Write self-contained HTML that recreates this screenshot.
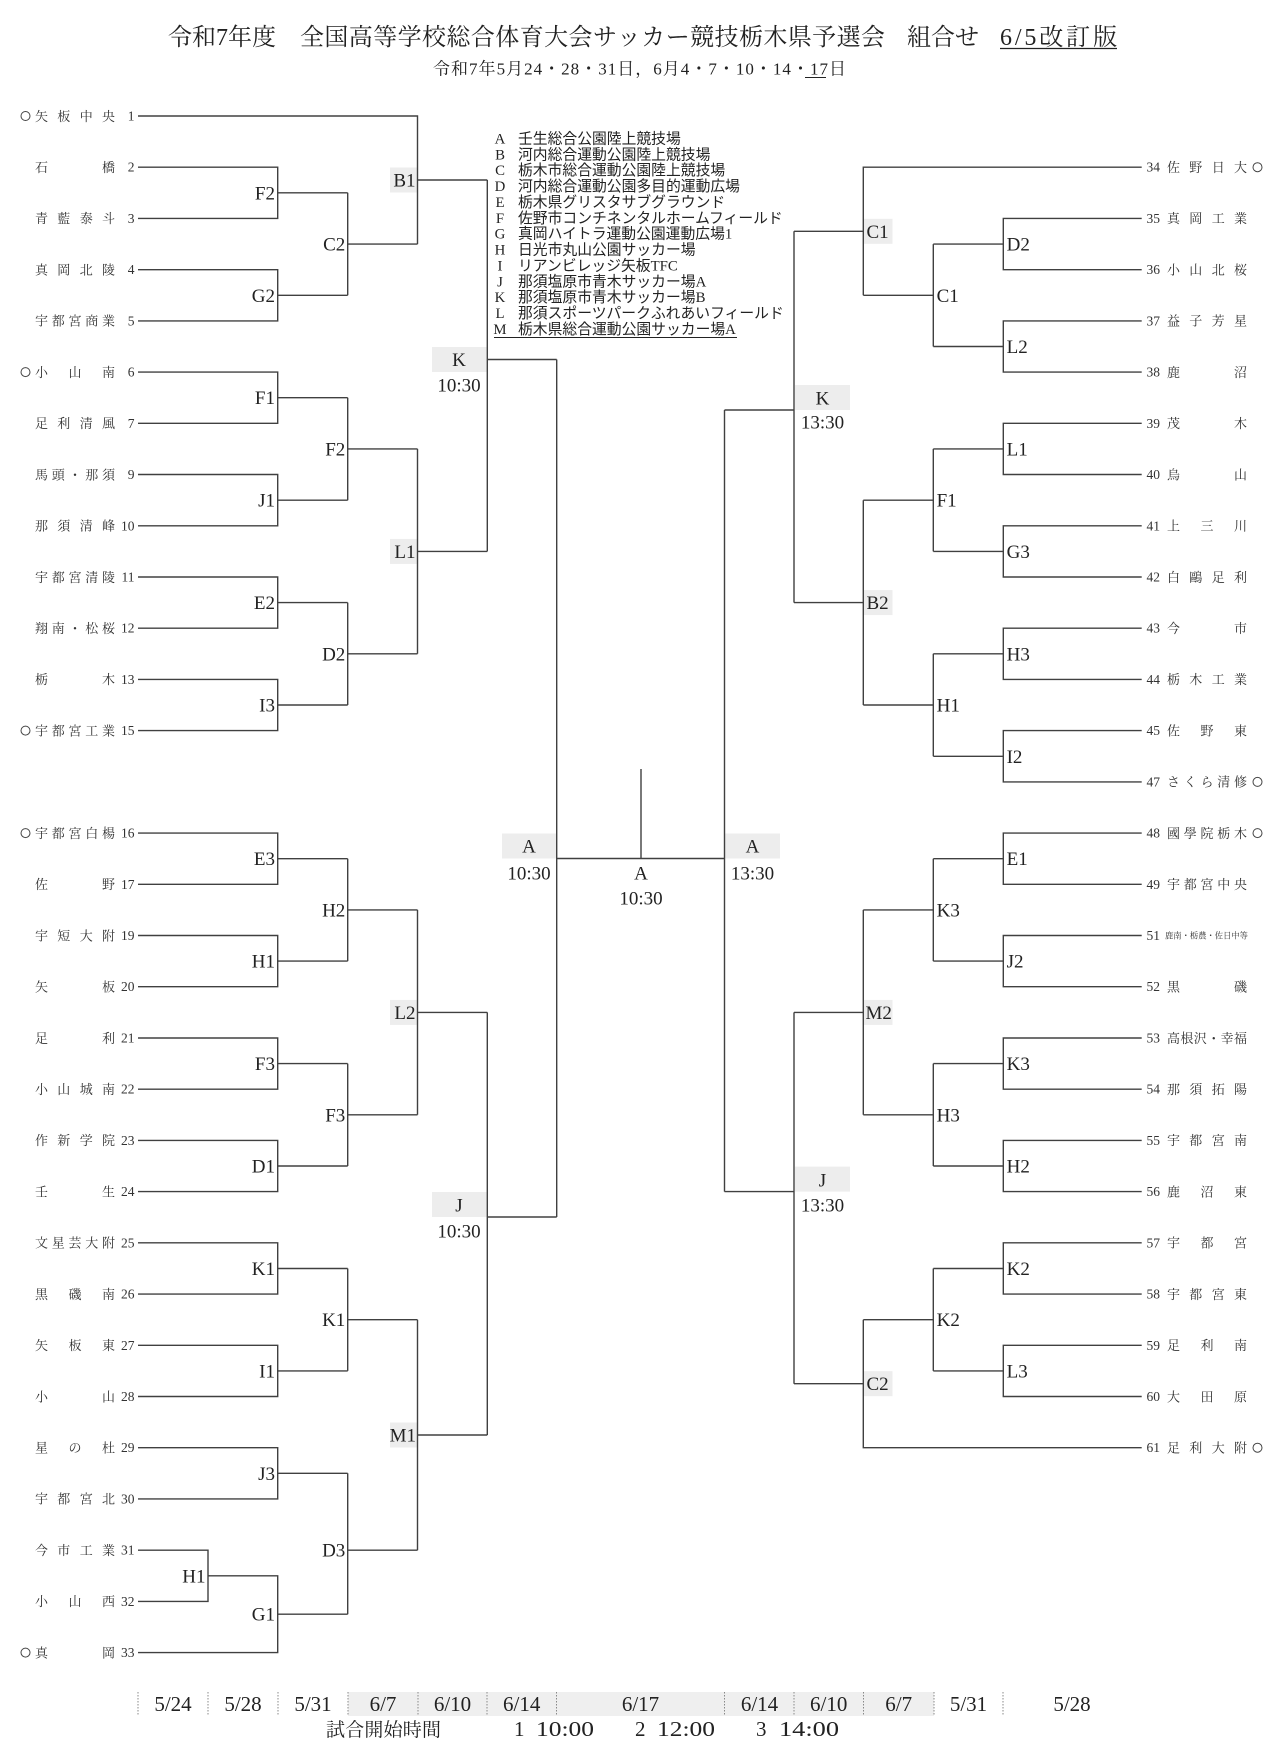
<!DOCTYPE html>
<html><head><meta charset="utf-8">
<style>
html,body{margin:0;padding:0;background:#fff;}
svg{display:block;}
.s{font-family:"Liberation Serif","Noto Serif CJK JP","Noto Serif CJK SC",serif;}
.g{font-family:"Liberation Serif","Noto Sans CJK JP",sans-serif;}
</style></head><body>
<svg width="1280" height="1751" viewBox="0 0 1280 1751" xmlns="http://www.w3.org/2000/svg">
<rect width="1280" height="1751" fill="#fff"/>

<!-- gray boxes -->
<g fill="#ededed">
<rect x="390" y="167.5" width="27.5" height="25"/>
<rect x="390" y="538.9" width="27.5" height="25"/>
<rect x="390" y="999.9" width="27.5" height="25"/>
<rect x="390" y="1422.5" width="27.5" height="25"/>
<rect x="432" y="347" width="54.5" height="25"/>
<rect x="432" y="1192" width="54.5" height="25"/>
<rect x="502" y="833.5" width="54.5" height="25"/>
<rect x="725" y="833.5" width="55" height="25"/>
<rect x="795" y="385" width="55" height="25"/>
<rect x="795" y="1166.6" width="55" height="25"/>
<rect x="863.5" y="218.8" width="29" height="25"/>
<rect x="863.5" y="590.1" width="29" height="25"/>
<rect x="863.5" y="999.9" width="29" height="25"/>
<rect x="863.5" y="1371.2" width="29" height="25"/>
<rect x="348" y="1692" width="586" height="24" fill="#efefef"/>
</g>

<!-- bracket lines -->
<path fill="none" stroke="#404040" stroke-width="1.4" d="
M138 167.2H277.7V218.4H138M277.7 192.8H347.7
M138 269.7H277.7V320.9H138M277.7 295.3H347.7
M138 372.1H277.7V423.3H138M277.7 397.7H347.7
M138 474.5H277.7V525.8H138M277.7 500.2H347.7
M138 577H277.7V628.2H138M277.7 602.6H347.7
M138 679.4H277.7V730.6H138M277.7 705H347.7
M138 833.1H277.7V884.3H138M277.7 858.7H347.7
M138 935.5H277.7V986.7H138M277.7 961.1H347.7
M138 1038H277.7V1089.2H138M277.7 1063.6H347.7
M138 1140.4H277.7V1191.6H138M277.7 1166H347.7
M138 1242.8H277.7V1294.1H138M277.7 1268.5H347.7
M138 1345.3H277.7V1396.5H138M277.7 1370.9H347.7
M138 1447.7H277.7V1498.9H138M277.7 1473.3H347.7
M138 1550.2H208V1601.4H138
M208 1575.8H277.7V1652.6H138M277.7 1614.2H347.7
M347.7 192.8V295.3M347.7 244.1H417.5
M347.7 397.7V500.2M347.7 448.9H417.5
M347.7 602.6V705M347.7 653.8H417.5
M347.7 858.7V961.1M347.7 909.9H417.5
M347.7 1063.6V1166M347.7 1114.8H417.5
M347.7 1268.5V1370.9M347.7 1319.7H417.5
M347.7 1473.3V1614.2M347.7 1550.2H417.5
M138 116H417.5V244.1M417.5 180H487.3
M417.5 448.9V653.8M417.5 551.4H487.3
M417.5 909.9V1114.8M417.5 1012.4H487.3
M417.5 1319.7V1550.2M417.5 1435H487.3
M487.3 180V551.4M487.3 359.5H556.7
M487.3 1012.4V1435M487.3 1217H556.7
M556.7 359.5V1217M556.7 858.5H724.5
M641 769V858.5
M724.5 410V1191.6M724.5 410H794M724.5 1191.6H794
M794 231.3V602.6
M794 1012.4V1383.7
M1141.7 167.2H863.3V295.3M863.3 231.3H794
M863.3 500.2V705M863.3 602.6H794
M863.3 909.9V1114.8M863.3 1012.4H794
M863.3 1319.7V1447.7H1141.7M863.3 1383.7H794
M933.3 244.1V346.5M933.3 295.3H863.3
M933.3 448.9V551.4M933.3 500.2H863.3
M933.3 653.8V756.3M933.3 705H863.3
M933.3 858.7V961.1M933.3 909.9H863.3
M933.3 1063.6V1166M933.3 1114.8H863.3
M933.3 1268.5V1370.9M933.3 1319.7H863.3
M1141.7 218.4H1003.3V269.7H1141.7M1003.3 244.1H933.3
M1141.7 320.9H1003.3V372.1H1141.7M1003.3 346.5H933.3
M1141.7 423.3H1003.3V474.5H1141.7M1003.3 448.9H933.3
M1141.7 525.8H1003.3V577H1141.7M1003.3 551.4H933.3
M1141.7 628.2H1003.3V679.4H1141.7M1003.3 653.8H933.3
M1141.7 730.6H1003.3V781.9H1141.7M1003.3 756.3H933.3
M1141.7 833.1H1003.3V884.3H1141.7M1003.3 858.7H933.3
M1141.7 935.5H1003.3V986.7H1141.7M1003.3 961.1H933.3
M1141.7 1038H1003.3V1089.2H1141.7M1003.3 1063.6H933.3
M1141.7 1140.4H1003.3V1191.6H1141.7M1003.3 1166H933.3
M1141.7 1242.8H1003.3V1294.1H1141.7M1003.3 1268.5H933.3
M1141.7 1345.3H1003.3V1396.5H1141.7M1003.3 1370.9H933.3
"/>

<!-- footer separators -->
<g stroke="#888" stroke-width="1" stroke-dasharray="1.5 1.5">
<path d="M138 1692V1716M208 1692V1716M278 1692V1716M348 1692V1716M418 1692V1716M487 1692V1716M556.5 1692V1716M724.5 1692V1716M794 1692V1716M863.5 1692V1716M934 1692V1716M1003 1692V1716"/>
</g>

<!-- circles -->
<g fill="none" stroke="#444" stroke-width="1">
<circle cx="25.5" cy="116" r="4.5"/>
<circle cx="25.5" cy="372.1" r="4.5"/>
<circle cx="25.5" cy="730.6" r="4.5"/>
<circle cx="25.5" cy="833.1" r="4.5"/>
<circle cx="25.5" cy="1652.6" r="4.5"/>
<circle cx="1257.5" cy="167.2" r="4.5"/>
<circle cx="1257.5" cy="781.9" r="4.5"/>
<circle cx="1257.5" cy="833.1" r="4.5"/>
<circle cx="1257.5" cy="1447.7" r="4.5"/>
</g>

<!-- title -->
<g class="s" fill="#222" font-size="24">
<text x="168" y="45">令和7年度</text>
<text x="300" y="45" textLength="585" lengthAdjust="spacing">全国高等学校総合体育大会サッカー競技栃木県予選会</text>
<text x="907" y="45">組合せ</text>
<text x="1000" y="45" textLength="117" lengthAdjust="spacing">6/5改訂版</text>
</g>
<path d="M1000 48.5H1117" stroke="#222" stroke-width="1.3"/>
<text class="s" x="433" y="74.6" font-size="17" fill="#222" textLength="413" lengthAdjust="spacing">令和7年5月24・28・31日，6月4・7・10・14・17日</text>
<path d="M805 77.5H826" stroke="#222" stroke-width="1.1"/>

<!-- legend -->
<g class="g" fill="#222" font-size="14.8">
<g text-anchor="middle" font-family="Liberation Serif, serif">
<text x="500" y="143.5">A</text><text x="500" y="159.4">B</text><text x="500" y="175.2">C</text><text x="500" y="191.1">D</text><text x="500" y="207">E</text><text x="500" y="222.9">F</text><text x="500" y="238.7">G</text><text x="500" y="254.6">H</text><text x="500" y="270.5">I</text><text x="500" y="286.3">J</text><text x="500" y="302.2">K</text><text x="500" y="318.1">L</text><text x="500" y="334">M</text>
</g>
<text x="518" y="143.5">壬生総合公園陸上競技場</text>
<text x="518" y="159.4">河内総合運動公園陸上競技場</text>
<text x="518" y="175.2">栃木市総合運動公園陸上競技場</text>
<text x="518" y="191.1">河内総合運動公園多目的運動広場</text>
<text x="518" y="207">栃木県グリスタサブグラウンド</text>
<text x="518" y="222.9">佐野市コンチネンタルホームフィールド</text>
<text x="518" y="238.7">真岡ハイトラ運動公園運動広場1</text>
<text x="518" y="254.6">日光市丸山公園サッカー場</text>
<text x="518" y="270.5">リアンビレッジ矢板TFC</text>
<text x="518" y="286.3">那須塩原市青木サッカー場A</text>
<text x="518" y="302.2">那須塩原市青木サッカー場B</text>
<text x="518" y="318.1">那須スポーツパークふれあいフィールド</text>
<text x="518" y="334">栃木県総合運動公園サッカー場A</text>
</g>
<path d="M494 337.5H737" stroke="#222" stroke-width="1"/>

<!-- left team names -->
<g class="s" fill="#333" font-size="13">
<text x="35 57.3 79.7 102" y="120.8">矢板中央</text>
<text x="35 102" y="172">石橋</text>
<text x="35 57.3 79.7 102" y="223.2">青藍泰斗</text>
<text x="35 57.3 79.7 102" y="274.5">真岡北陵</text>
<text x="35 51.8 68.5 85.3 102" y="325.7">宇都宮商業</text>
<text x="35 68.5 102" y="376.9">小山南</text>
<text x="35 57.3 79.7 102" y="428.1">足利清風</text>
<text x="35 51.8 68.5 85.3 102" y="479.3">馬頭・那須</text>
<text x="35 57.3 79.7 102" y="530.6">那須清峰</text>
<text x="35 51.8 68.5 85.3 102" y="581.8">宇都宮清陵</text>
<text x="35 51.8 68.5 85.3 102" y="633">翔南・松桜</text>
<text x="35 102" y="684.2">栃木</text>
<text x="35 51.8 68.5 85.3 102" y="735.4">宇都宮工業</text>
<text x="35 51.8 68.5 85.3 102" y="837.9">宇都宮白楊</text>
<text x="35 102" y="889.1">佐野</text>
<text x="35 57.3 79.7 102" y="940.3">宇短大附</text>
<text x="35 102" y="991.5">矢板</text>
<text x="35 102" y="1042.8">足利</text>
<text x="35 57.3 79.7 102" y="1094">小山城南</text>
<text x="35 57.3 79.7 102" y="1145.2">作新学院</text>
<text x="35 102" y="1196.4">壬生</text>
<text x="35 51.8 68.5 85.3 102" y="1247.6">文星芸大附</text>
<text x="35 68.5 102" y="1298.9">黒磯南</text>
<text x="35 68.5 102" y="1350.1">矢板東</text>
<text x="35 102" y="1401.3">小山</text>
<text x="35 68.5 102" y="1452.5">星の杜</text>
<text x="35 57.3 79.7 102" y="1503.7">宇都宮北</text>
<text x="35 57.3 79.7 102" y="1555">今市工業</text>
<text x="35 68.5 102" y="1606.2">小山西</text>
<text x="35 102" y="1657.4">真岡</text>
</g>
<g class="s" fill="#333" font-size="13.5" text-anchor="end">
<text x="134.5" y="120.5">1</text><text x="134.5" y="171.7">2</text><text x="134.5" y="222.9">3</text><text x="134.5" y="274.2">4</text><text x="134.5" y="325.4">5</text><text x="134.5" y="376.6">6</text><text x="134.5" y="427.8">7</text><text x="134.5" y="479">9</text><text x="134.5" y="530.3">10</text><text x="134.5" y="581.5">11</text><text x="134.5" y="632.7">12</text><text x="134.5" y="683.9">13</text><text x="134.5" y="735.1">15</text>
<text x="134.5" y="837.6">16</text><text x="134.5" y="888.8">17</text><text x="134.5" y="940">19</text><text x="134.5" y="991.2">20</text><text x="134.5" y="1042.5">21</text><text x="134.5" y="1093.7">22</text><text x="134.5" y="1144.9">23</text><text x="134.5" y="1196.1">24</text><text x="134.5" y="1247.3">25</text><text x="134.5" y="1298.6">26</text><text x="134.5" y="1349.8">27</text><text x="134.5" y="1401">28</text><text x="134.5" y="1452.2">29</text><text x="134.5" y="1503.4">30</text><text x="134.5" y="1554.7">31</text><text x="134.5" y="1605.9">32</text><text x="134.5" y="1657.1">33</text>
</g>

<!-- right team names -->
<g class="s" fill="#333" font-size="13">
<text x="1167 1189.3 1211.7 1234" y="172">佐野日大</text>
<text x="1167 1189.3 1211.7 1234" y="223.2">真岡工業</text>
<text x="1167 1189.3 1211.7 1234" y="274.5">小山北桜</text>
<text x="1167 1189.3 1211.7 1234" y="325.7">益子芳星</text>
<text x="1167 1234" y="376.9">鹿沼</text>
<text x="1167 1234" y="428.1">茂木</text>
<text x="1167 1234" y="479.3">烏山</text>
<text x="1167 1200.5 1234" y="530.6">上三川</text>
<text x="1167 1189.3 1211.7 1234" y="581.8">白鷗足利</text>
<text x="1167 1234" y="633">今市</text>
<text x="1167 1189.3 1211.7 1234" y="684.2">栃木工業</text>
<text x="1167 1200.5 1234" y="735.4">佐野東</text>
<text x="1167 1183.8 1200.5 1217.3 1234" y="786.7">さくら清修</text>
<text x="1167 1183.8 1200.5 1217.3 1234" y="837.9">國學院栃木</text>
<text x="1167 1183.8 1200.5 1217.3 1234" y="889.1">宇都宮中央</text>
<text x="1165" y="938.5" font-size="8.3">鹿南・栃農・佐日中等</text>
<text x="1167 1234" y="991.5">黒磯</text>
<text x="1167 1180.4 1193.8 1207.2 1220.6 1234" y="1042.8">高根沢・幸福</text>
<text x="1167 1189.3 1211.7 1234" y="1094">那須拓陽</text>
<text x="1167 1189.3 1211.7 1234" y="1145.2">宇都宮南</text>
<text x="1167 1200.5 1234" y="1196.4">鹿沼東</text>
<text x="1167 1200.5 1234" y="1247.6">宇都宮</text>
<text x="1167 1189.3 1211.7 1234" y="1298.9">宇都宮東</text>
<text x="1167 1200.5 1234" y="1350.1">足利南</text>
<text x="1167 1200.5 1234" y="1401.3">大田原</text>
<text x="1167 1189.3 1211.7 1234" y="1452.5">足利大附</text>
</g>
<g class="s" fill="#333" font-size="13.5">
<text x="1146.5" y="171.7">34</text><text x="1146.5" y="222.9">35</text><text x="1146.5" y="274.2">36</text><text x="1146.5" y="325.4">37</text><text x="1146.5" y="376.6">38</text><text x="1146.5" y="427.8">39</text><text x="1146.5" y="479">40</text><text x="1146.5" y="530.3">41</text><text x="1146.5" y="581.5">42</text><text x="1146.5" y="632.7">43</text><text x="1146.5" y="683.9">44</text><text x="1146.5" y="735.1">45</text><text x="1146.5" y="786.4">47</text>
<text x="1146.5" y="837.6">48</text><text x="1146.5" y="888.8">49</text><text x="1146.5" y="940">51</text><text x="1146.5" y="991.2">52</text><text x="1146.5" y="1042.5">53</text><text x="1146.5" y="1093.7">54</text><text x="1146.5" y="1144.9">55</text><text x="1146.5" y="1196.1">56</text><text x="1146.5" y="1247.3">57</text><text x="1146.5" y="1298.6">58</text><text x="1146.5" y="1349.8">59</text><text x="1146.5" y="1401">60</text><text x="1146.5" y="1452.2">61</text>
</g>

<!-- match labels -->
<g class="s" fill="#222" font-size="19">
<g text-anchor="end">
<text x="275" y="199.3">F2</text><text x="275" y="301.8">G2</text><text x="275" y="404.2">F1</text><text x="275" y="506.7">J1</text><text x="275" y="609.1">E2</text><text x="275" y="711.5">I3</text>
<text x="275" y="865.2">E3</text><text x="275" y="967.6">H1</text><text x="275" y="1070.1">F3</text><text x="275" y="1172.5">D1</text><text x="275" y="1275">K1</text><text x="275" y="1377.4">I1</text><text x="275" y="1479.8">J3</text><text x="275" y="1620.7">G1</text>
<text x="205.5" y="1582.3">H1</text>
<text x="345.3" y="250.6">C2</text><text x="345.3" y="455.4">F2</text><text x="345.3" y="660.3">D2</text><text x="345.3" y="916.4">H2</text><text x="345.3" y="1121.3">F3</text><text x="345.3" y="1326.2">K1</text><text x="345.3" y="1556.7">D3</text>
<text x="415.5" y="186.5">B1</text><text x="415.5" y="557.9">L1</text><text x="415.5" y="1018.9">L2</text><text x="416" y="1441.5">M1</text>
</g>
<g text-anchor="middle">
<text x="459" y="366">K</text><text x="459" y="391.5">10:30</text>
<text x="459" y="1211.5">J</text><text x="459" y="1237.5">10:30</text>
<text x="529" y="852.5">A</text><text x="529" y="879.5">10:30</text>
<text x="641" y="879.5">A</text><text x="641" y="904.5">10:30</text>
<text x="752.5" y="852.5">A</text><text x="752.5" y="879.5">13:30</text>
<text x="822.5" y="404.5">K</text><text x="822.5" y="428.5">13:30</text>
<text x="822.5" y="1186.5">J</text><text x="822.5" y="1211.5">13:30</text>
</g>
<g>
<text x="866.5" y="237.8">C1</text><text x="866.5" y="609.1">B2</text><text x="865.5" y="1018.9">M2</text><text x="866.5" y="1390.2">C2</text>
<text x="936.6" y="301.8">C1</text><text x="936.6" y="506.7">F1</text><text x="936.6" y="711.5">H1</text><text x="936.6" y="916.4">K3</text><text x="936.6" y="1121.3">H3</text><text x="936.6" y="1326.2">K2</text>
<text x="1006.6" y="250.6">D2</text><text x="1006.6" y="353">L2</text><text x="1006.6" y="455.4">L1</text><text x="1006.6" y="557.9">G3</text><text x="1006.6" y="660.3">H3</text><text x="1006.6" y="762.8">I2</text>
<text x="1006.6" y="865.2">E1</text><text x="1006.6" y="967.6">J2</text><text x="1006.6" y="1070.1">K3</text><text x="1006.6" y="1172.5">H2</text><text x="1006.6" y="1275">K2</text><text x="1006.6" y="1377.4">L3</text>
</g>
</g>

<!-- footer -->
<g class="s" fill="#222" font-size="21" text-anchor="middle">
<text x="173" y="1711">5/24</text>
<text x="243" y="1711">5/28</text>
<text x="313" y="1711">5/31</text>
<text x="383" y="1711">6/7</text>
<text x="452.5" y="1711">6/10</text>
<text x="521.7" y="1711">6/14</text>
<text x="640.5" y="1711">6/17</text>
<text x="759.5" y="1711">6/14</text>
<text x="828.7" y="1711">6/10</text>
<text x="898.7" y="1711">6/7</text>
<text x="968.5" y="1711">5/31</text>
<text x="1072" y="1711">5/28</text>
</g>
<g class="s" fill="#222" font-size="21">
<text x="326" y="1736" font-size="19" textLength="115" lengthAdjust="spacing">試合開始時間</text>
<text x="514" y="1736">1</text><text x="536" y="1736" textLength="58" lengthAdjust="spacingAndGlyphs">10:00</text>
<text x="635" y="1736">2</text><text x="657" y="1736" textLength="58" lengthAdjust="spacingAndGlyphs">12:00</text>
<text x="756" y="1736">3</text><text x="779" y="1736" textLength="60" lengthAdjust="spacingAndGlyphs">14:00</text>
</g>
</svg>
</body></html>
